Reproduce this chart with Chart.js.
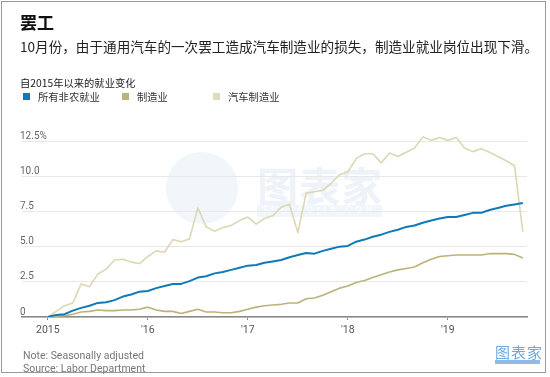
<!DOCTYPE html>
<html>
<head>
<meta charset="utf-8">
<script src="https://cdn.jsdelivr.net/npm/chart.js@4.4.0/dist/chart.umd.min.js"></script>
<style>
	body { margin: 0; background: #fff; }
	#wrap { position: relative; width: 550px; height: 377px; overflow: hidden; font-family: "Noto Sans CJK SC", "Noto Sans", sans-serif; }
	#frame { position: absolute; left: 1px; top: 1px; width: 543px; height: 370px; border: 1px solid #999; }
	.txt { position: absolute; white-space: nowrap; color: #222; }
	#title { left: 20px; top: 12px; font-size: 17px; font-weight: bold; line-height: 20px; color: #111; }
	#sub { left: 20px; top: 37px; font-size: 13.6px; line-height: 18px; }
	#unit { left: 20px; top: 76px; font-size: 10.3px; line-height: 14px; }
	.leg { position: absolute; top: 90px; font-size: 10.3px; line-height: 14px; color: #333; white-space: nowrap; }
	.leg i { position: absolute; left: -15px; top: 3px; width: 7px; height: 7px; }
	.note { position: absolute; left: 23px; font-family: "Liberation Sans Narrow", "Roboto", sans-serif; font-size: 10.5px; color: #777; line-height: 12px; }
	#wm { position: absolute; left: 257px; top: 156px; font-size: 41px; line-height: 56px; font-weight: bold; color: #edf3f9; letter-spacing: 1px; }
	#wm2 { position: absolute; left: 257px; top: 205px; width: 125px; height: 12px; background: #f1f6fb; color: #fff; font-size: 8px; line-height: 12px; letter-spacing: 4px; text-align: center; font-family: "DejaVu Sans", sans-serif; }
	#head { position: absolute; left: 166px; top: 152px; width: 72px; height: 72px; border-radius: 50%; background: #f1f6fb; }
	#logo { position: absolute; left: 495px; top: 344px; font-size: 15px; color: #6fa9dc; line-height: 16px; letter-spacing: 1px; }
	#logo2 { position: absolute; left: 495px; top: 360px; width: 45px; height: 4px; background: #8dbde6; }
	canvas { position: absolute; left: 0; top: 0; }
</style>
</head>
<body>
<div id="wrap">
	<div id="head"></div>
	<div id="wm">图表家</div>
	<div id="wm2">TUBIAOJIA.COM</div>
	<canvas id="chart" width="550" height="377"></canvas>
	<div id="frame"></div>
	<div class="txt" id="title">罢工</div>
	<div class="txt" id="sub">10月份，由于通用汽车的一次罢工造成汽车制造业的损失，制造业就业岗位出现下滑。</div>
	<div class="txt" id="unit">自2015年以来的就业变化</div>
	<div class="leg" style="left:38px"><i style="background:#0e7bb8"></i>所有非农就业</div>
	<div class="leg" style="left:137px"><i style="background:#bcb27b"></i>制造业</div>
	<div class="leg" style="left:228px"><i style="background:#e0dcbd"></i>汽车制造业</div>
	<div class="note" style="top:350px">Note: Seasonally adjusted</div>
	<div class="note" style="top:363px">Source: Labor Department</div>
	<div id="logo">图表家</div>
	<div id="logo2"></div>
</div>
<script>

// months since Jan 2015, Jan 2015 .. Oct 2019
var nonfarm = [0, 0.15, 0.2, 0.45, 0.65, 0.8, 1.0, 1.05, 1.2, 1.45, 1.6, 1.8,
	1.85, 2.05, 2.2, 2.35, 2.35, 2.55, 2.8, 2.9, 3.1, 3.2, 3.35, 3.5,
	3.65, 3.7, 3.85, 3.95, 4.05, 4.25, 4.4, 4.55, 4.5, 4.7, 4.85, 5.0,
	5.05, 5.35, 5.5, 5.7, 5.85, 6.05, 6.2, 6.4, 6.5, 6.7, 6.85, 7.0,
	7.1, 7.1, 7.25, 7.4, 7.4, 7.6, 7.75, 7.9, 8.0, 8.1];

var manufacturing = [0, 0.05, 0.1, 0.2, 0.35, 0.4, 0.5, 0.45, 0.45, 0.5, 0.5, 0.55,
	0.7, 0.5, 0.4, 0.4, 0.25, 0.4, 0.55, 0.35, 0.35, 0.3, 0.3, 0.4,
	0.55, 0.7, 0.8, 0.85, 0.9, 1.0, 1.0, 1.3, 1.35, 1.55, 1.8, 2.05,
	2.2, 2.45, 2.6, 2.8, 3.0, 3.2, 3.35, 3.45, 3.55, 3.85, 4.1, 4.3,
	4.35, 4.4, 4.4, 4.4, 4.4, 4.5, 4.5, 4.5, 4.45, 4.2];

var autoManufacturing = [0, 0.4, 0.8, 1.0, 2.35, 2.15, 3.05, 3.4, 4.05, 4.1, 3.9, 3.8,
	4.3, 4.7, 4.6, 5.5, 5.35, 5.55, 7.75, 6.4, 6.1, 6.35, 6.5, 6.85,
	7.1, 6.6, 7.0, 7.2, 7.8, 8.0, 6.0, 8.8, 8.9, 9.0, 9.5, 10.1,
	10.3, 11.25, 11.6, 11.6, 10.95, 11.65, 11.4, 11.7, 12.0, 12.8, 12.55, 12.75,
	12.55, 12.75, 12.0, 11.75, 11.95, 11.7, 11.4, 11.1, 10.75, 6.05];

var xTickMonths = [0, 12, 24, 36, 48];
var xTickLabels = ["2015", "'16", "'17", "'18", "'19"];
var yTickValues = [0, 2.5, 5, 7.5, 10, 12.5];
var yTickLabels = ["0", "2.5", "5.0", "7.5", "10.0", "12.5%"];

function toPoints(arr){
	return arr.map(function(v, i){ return { x: i, y: v }; });
}

function init_chart_strike(){

	if( typeof (Chart) === 'undefined'){ return; }

	var chart_line_settings = {
		type: 'line',
		data: {
			datasets: [{
				label: "所有非农就业",
				data: toPoints(nonfarm),
				borderColor: "#0e7bb8",
				borderWidth: 2,
				order: 1
			}, {
				label: "制造业",
				data: toPoints(manufacturing),
				borderColor: "#bcb27b",
				borderWidth: 1.6,
				order: 2
			}, {
				label: "汽车制造业",
				data: toPoints(autoManufacturing),
				borderColor: "#dcd7b4",
				borderWidth: 1.6,
				order: 3
			}]
		},
		options: {
			responsive: false,
			animation: false,
			devicePixelRatio: 1,
			layout: { padding: { left: 22, right: 23, top: 127, bottom: 40 } },
			elements: { point: { radius: 0 }, line: { tension: 0, borderJoinStyle: 'round' } },
			plugins: { legend: { display: false }, tooltip: { enabled: false } },
			scales: {
				x: {
					type: 'linear',
					min: -3.1,
					max: 57.5,
					afterFit: function(scale){ scale.height = 20; },
					afterBuildTicks: function(scale){
						scale.ticks = xTickMonths.map(function(v){ return { value: v }; });
					},
					border: { display: true, color: "#888", width: 1.5 },
					grid: { drawOnChartArea: false, drawTicks: true, tickLength: 3, color: "#888" },
					ticks: {
						autoSkip: false,
						maxRotation: 0,
						padding: 4,
						color: "#555",
						font: { family: "Liberation Sans Narrow, Roboto, sans-serif", size: 10.5 },
						callback: function(value){ return xTickLabels[xTickMonths.indexOf(value)]; }
					}
				},
				y: {
					min: 0,
					max: 13.5,
					afterFit: function(scale){ scale.width = 0; },
					afterBuildTicks: function(scale){
						scale.ticks = yTickValues.map(function(v){ return { value: v }; });
					},
					border: { display: false },
					grid: { color: "#e8e8e8", lineWidth: 1, drawTicks: false },
					ticks: {
						mirror: true,
						padding: -2,
						labelOffset: -5,
						color: "#666",
						font: { family: "Liberation Sans Narrow, Roboto, sans-serif", size: 10 },
						callback: function(value){ return yTickLabels[yTickValues.indexOf(value)]; }
					}
				}
			}
		}
	};

	var chart_line = new Chart(document.getElementById('chart'), chart_line_settings);
}

init_chart_strike();
</script>
</body>
</html>
